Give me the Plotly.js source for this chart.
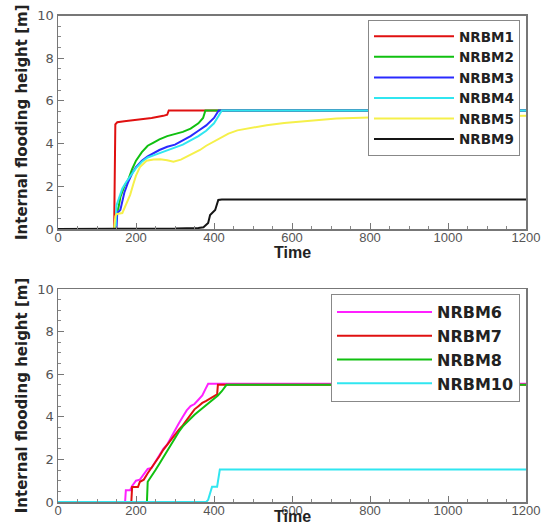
<!DOCTYPE html>
<html>
<head>
<meta charset="utf-8">
<script src="https://cdn.plot.ly/plotly-3.0.1.min.js"></script>
<style>html,body{margin:0;padding:0;background:#fff;}#chart{width:541px;height:526px;}</style>
</head>
<body>
<div id="chart"></div>
<script>
// ---- Top panel data ----
const t_NRBM1 = [0,144,147,152,170,200,240,270,280,284,1200];
const h_NRBM1 = [0,0,4.9,5.0,5.05,5.1,5.2,5.3,5.35,5.55,5.55];

const t_NRBM2 = [0,144,147,150,155,160,170,180,190,200,215,230,245,260,280,300,320,340,360,372,378,1200];
const h_NRBM2 = [0,0,0.3,0.7,1.0,1.5,2.0,2.3,2.8,3.2,3.6,3.9,4.05,4.2,4.35,4.45,4.55,4.7,4.95,5.2,5.55,5.55];

const t_NRBM3 = [0,150,152,155,160,165,170,180,190,200,215,230,245,260,280,300,320,340,360,380,400,412,1200];
const h_NRBM3 = [0,0,0.8,0.8,0.9,1.3,1.7,2.2,2.6,2.9,3.2,3.4,3.55,3.7,3.85,3.95,4.15,4.35,4.6,4.85,5.2,5.55,5.55];

const t_NRBM4 = [0,148,150,155,165,175,190,200,215,230,245,260,280,300,320,340,360,380,400,412,420,1200];
const h_NRBM4 = [0,0,1.1,1.4,1.9,2.2,2.6,2.85,3.15,3.35,3.45,3.55,3.65,3.8,3.95,4.15,4.35,4.6,4.95,5.3,5.55,5.55];

const t_NRBM5 = [0,144,147,150,165,176,185,193,200,210,220,227,245,262,280,296,315,330,345,364,380,398,420,437,460,500,535,580,640,714,800,885,1000,1100,1200];
const h_NRBM5 = [0,0,0.6,0.7,0.75,1.2,1.6,2.1,2.5,2.9,3.1,3.2,3.25,3.27,3.22,3.15,3.25,3.38,3.5,3.7,3.9,4.08,4.3,4.47,4.62,4.76,4.86,4.97,5.07,5.17,5.22,5.25,5.27,5.28,5.3];

const t_NRBM9 = [0,100,200,300,360,373,385,390,403,411,420,1200];
const h_NRBM9 = [0,0,0,0.02,0.05,0.08,0.28,0.65,0.89,1.36,1.38,1.38];

// ---- Bottom panel data ----
const t_NRBM6 = [0,172,174,185,190,200,210,220,230,240,250,260,270,280,290,300,310,320,330,340,350,360,370,378,385,1200];
const h_NRBM6 = [0,0,0.55,0.55,0.75,1.0,1.05,1.3,1.55,1.6,1.9,2.2,2.5,2.7,3.05,3.4,3.7,4.0,4.3,4.5,4.6,4.8,5.0,5.3,5.55,5.55];

const t_NRBM7 = [0,188,190,205,210,220,230,240,250,260,270,280,290,300,310,320,330,340,350,360,370,380,390,400,408,410,1200];
const h_NRBM7 = [0,0,0.7,0.7,0.95,1.05,1.35,1.6,1.85,2.15,2.45,2.7,2.95,3.2,3.4,3.6,3.85,4.1,4.35,4.5,4.65,4.75,4.85,4.95,5.05,5.5,5.5];

const t_NRBM8 = [0,228,230,240,250,260,270,280,290,300,310,320,330,340,350,360,370,380,390,400,410,420,432,1200];
const h_NRBM8 = [0,0,0.95,1.2,1.5,1.8,2.1,2.45,2.75,3.05,3.3,3.55,3.75,3.95,4.1,4.25,4.4,4.55,4.7,4.85,5.0,5.2,5.5,5.5];

const t_NRBM10 = [0,380,385,392,395,408,410,415,1200];
const h_NRBM10 = [0,0,0.1,0.5,0.72,0.72,1.0,1.53,1.53];

const X_TITLE = 'Time';
const Y_TITLE = 'Internal flooding height [m]';

const SANS = 'Liberation Sans, Arial, sans-serif';
const WIDE = 'DejaVu Sans, sans-serif';

function tr(name, x, y, color, xa, ya, leg) {
  return {type:'scatter', mode:'lines', name:name, x:x, y:y,
    line:{color:color, width:2}, xaxis:xa, yaxis:ya, legend:leg};
}

const data = [
  tr('NRBM1', t_NRBM1, h_NRBM1, '#e01010', 'x', 'y', 'legend'),
  tr('NRBM2', t_NRBM2, h_NRBM2, '#10c010', 'x', 'y', 'legend'),
  tr('NRBM3', t_NRBM3, h_NRBM3, '#2a2aff', 'x', 'y', 'legend'),
  tr('NRBM4', t_NRBM4, h_NRBM4, '#30e6f0', 'x', 'y', 'legend'),
  tr('NRBM5', t_NRBM5, h_NRBM5, '#f5f04a', 'x', 'y', 'legend'),
  tr('NRBM9', t_NRBM9, h_NRBM9, '#151515', 'x', 'y', 'legend'),
  tr('NRBM6', t_NRBM6, h_NRBM6, '#ff20ff', 'x2', 'y2', 'legend2'),
  tr('NRBM7', t_NRBM7, h_NRBM7, '#e01010', 'x2', 'y2', 'legend2'),
  tr('NRBM8', t_NRBM8, h_NRBM8, '#10c010', 'x2', 'y2', 'legend2'),
  tr('NRBM10', t_NRBM10, h_NRBM10, '#30e6f0', 'x2', 'y2', 'legend2')
];

const W = 541, H = 526;
function xAxis(anchor) {
  return {
    domain:[58/W, 526/W], anchor:anchor, range:[0,1200], dtick:200, tick0:0,
    showgrid:false, zeroline:false, showline:true, mirror:true,
    linecolor:'#777', linewidth:1.5,
    ticks:'inside', ticklen:6, tickcolor:'#777',
    minor:{ticks:'inside', dtick:50, ticklen:3, tickcolor:'#888'},
    tickfont:{family:SANS, size:13, color:'#555'},
    ticklabeloverflow:'allow', ticklabelstandoff:-4,
    automargin:false
  };
}
function yAxis(anchor, d0, d1) {
  return {
    domain:[d0, d1], anchor:anchor, range:[0,10], dtick:2, tick0:0,
    showgrid:false, zeroline:false, showline:true, mirror:true,
    linecolor:'#777', linewidth:1.5,
    ticks:'inside', ticklen:6, tickcolor:'#777',
    minor:{ticks:'inside', dtick:0.5, ticklen:3, tickcolor:'#888'},
    tickfont:{family:WIDE, size:13, color:'#555'},
    ticklabeloverflow:'allow',
    title:{text:Y_TITLE, standoff:6, font:{family:WIDE, size:15, color:'#222', weight:'bold'}},
    automargin:false
  };
}

const layout = {
  width:W, height:H,
  margin:{l:0, r:0, t:0, b:0},
  paper_bgcolor:'#fff', plot_bgcolor:'#fff',
  showlegend:true,
  xaxis: xAxis('y'),
  yaxis: yAxis('x', (H-229)/H, (H-15.5)/H),
  xaxis2: xAxis('y2'),
  yaxis2: yAxis('x2', (H-502)/H, (H-289)/H),
  annotations:[
    {text:X_TITLE, xref:'paper', yref:'paper', x:292/W, y:(H-253)/H, xanchor:'center', yanchor:'middle',
     showarrow:false, font:{family:SANS, size:16, color:'#222', weight:'bold'}},
    {text:X_TITLE, xref:'paper', yref:'paper', x:292/W, y:0, xanchor:'center', yanchor:'bottom',
     showarrow:false, borderpad:0, font:{family:SANS, size:16, color:'#222', weight:'bold'}}
  ],
  legend:{x:520/W, y:(H-20)/H, xanchor:'right', yanchor:'top',
    bgcolor:'#fff', bordercolor:'#888', borderwidth:1, itemwidth:80,
    font:{family:WIDE, size:13.5, color:'#222', weight:'bold'}, tracegroupgap:0},
  legend2:{x:520/W, y:(H-294)/H, xanchor:'right', yanchor:'top',
    bgcolor:'#fff', bordercolor:'#888', borderwidth:1, itemwidth:95,
    font:{family:WIDE, size:16, color:'#222', weight:'bold'}, tracegroupgap:0}
};

Plotly.newPlot('chart', data, layout, {displayModeBar:false, staticPlot:true});
</script>
</body>
</html>
